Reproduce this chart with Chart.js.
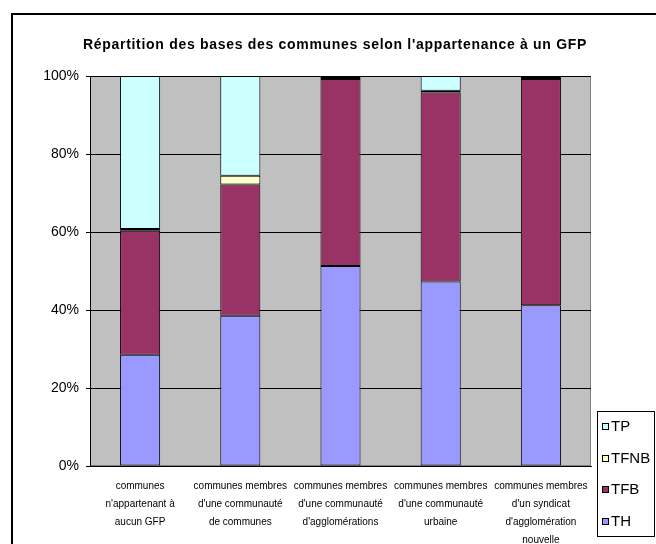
<!DOCTYPE html>
<html>
<head>
<meta charset="utf-8">
<script src="https://cdn.jsdelivr.net/npm/chart.js@4/dist/chart.umd.min.js"></script>
<style>
  html, body { margin: 0; padding: 0; background: #fff; overflow: hidden; }
  #wrap { width: 656px; height: 544px; position: relative; }
</style>
</head>
<body>
<div id="wrap"><canvas id="basesChart"></canvas></div>
<script>
// Répartition des bases (en %) par type de groupement
const title = "Répartition des bases des communes selon l'appartenance à un GFP";

const categories = [
    ['communes', "n'appartenant à", 'aucun GFP'],
    ['communes membres', "d'une communauté", 'de communes'],
    ['communes membres', "d'une communauté", "d'agglomérations"],
    ['communes membres', "d'une communauté", 'urbaine'],
    ['communes membres', "d'un syndicat", "d'agglomération", 'nouvelle']
];

const thValues   = [28.5, 38.5, 51.3, 47.3, 41.2];
const tfbValues  = [31.8, 33.7, 47.9, 48.5, 58.0];
const tfnbValues = [0.5, 2.2, 0.3, 0.4, 0.3];
const tpValues   = [39.2, 25.6, 0.5, 3.8, 0.5];

const yTicks = [0, 20, 40, 60, 80, 100];

const FONT = "'Liberation Sans', Arial, sans-serif";

// fond gris de la zone de tracé + cadre extérieur + titre
const frame = {
    id: 'frame',
    beforeDraw(chart) {
        const { ctx, chartArea: a } = chart;
        ctx.save();
        ctx.fillStyle = '#c0c0c0';
        ctx.fillRect(a.left, a.top, a.right - a.left, a.bottom - a.top);
        ctx.strokeStyle = '#808080';
        ctx.lineWidth = 1;
        ctx.strokeRect(a.left + 0.5, a.top + 0.5, a.right - a.left - 1, a.bottom - a.top - 1);

        ctx.strokeStyle = '#000';
        ctx.lineWidth = 2;
        ctx.strokeRect(12, 14, 700, 600);

        ctx.fillStyle = '#000';
        ctx.font = 'bold 14px ' + FONT;
        ctx.letterSpacing = '0.7px';
        ctx.textAlign = 'center';
        ctx.textBaseline = 'middle';
        ctx.fillText(title, 335, 45);
        ctx.restore();
    }
};

// légende encadrée en bas à droite (ordre inverse des séries)
const legendBox = {
    id: 'legendBox',
    afterDraw(chart) {
        const ctx = chart.ctx;
        ctx.save();
        ctx.fillStyle = '#fff';
        ctx.fillRect(597, 411, 57, 125);
        ctx.strokeStyle = '#000';
        ctx.lineWidth = 1;
        ctx.strokeRect(597.5, 411.5, 57, 125);

        ctx.font = '15px ' + FONT;
        ctx.textAlign = 'left';
        ctx.textBaseline = 'middle';
        chart.data.datasets.slice().reverse().forEach((ds, i) => {
            const cy = Math.round(426 + i * 31.5);
            ctx.fillStyle = ds.backgroundColor;
            ctx.fillRect(602, cy - 3, 7, 7);
            ctx.strokeRect(602.5, cy - 2.5, 6, 6);
            ctx.fillStyle = '#000';
            ctx.fillText(ds.label, 611, cy + 1);
        });
        ctx.restore();
    }
};

function makeSet(label, data, color) {
    return {
        label: label,
        data: data,
        backgroundColor: color,
        borderColor: '#000',
        borderWidth: 1,
        borderSkipped: false,
        barPercentage: 0.4,
        categoryPercentage: 1.0
    };
}

new Chart(document.getElementById('basesChart'), {
    type: 'bar',
    data: {
        labels: categories,
        datasets: [
            makeSet('TH', thValues, '#9999ff'),
            makeSet('TFB', tfbValues, '#993366'),
            makeSet('TFNB', tfnbValues, '#ffffcc'),
            makeSet('TP', tpValues, '#ccffff')
        ]
    },
    options: {
        responsive: true,
        maintainAspectRatio: false,
        animation: false,
        events: [],
        layout: { padding: { top: 76, right: 65, bottom: 0, left: 0 } },
        plugins: {
            legend: { display: false },
            title: { display: false },
            tooltip: { enabled: false }
        },
        scales: {
            x: {
                stacked: true,
                grid: { display: false, drawTicks: false },
                border: { display: true, color: '#000', width: 1 },
                ticks: {
                    color: '#000',
                    font: { family: FONT, size: 10, lineHeight: 1.8 },
                    padding: 11,
                    maxRotation: 0,
                    autoSkip: false
                },
                afterFit: (scale) => { scale.height = 78; }
            },
            y: {
                stacked: true,
                min: 0,
                max: 100,
                afterBuildTicks: (scale) => { scale.ticks = yTicks.map(v => ({ value: v })); },
                grid: { color: '#000', lineWidth: 1, tickLength: 4, tickColor: '#000' },
                border: { display: true, color: '#000', width: 1 },
                ticks: {
                    color: '#000',
                    font: { family: FONT, size: 14 },
                    padding: 7,
                    callback: (v) => v + '%'
                },
                afterFit: (scale) => { scale.width = 90; }
            }
        }
    },
    plugins: [frame, legendBox]
});
</script>
</body>
</html>
